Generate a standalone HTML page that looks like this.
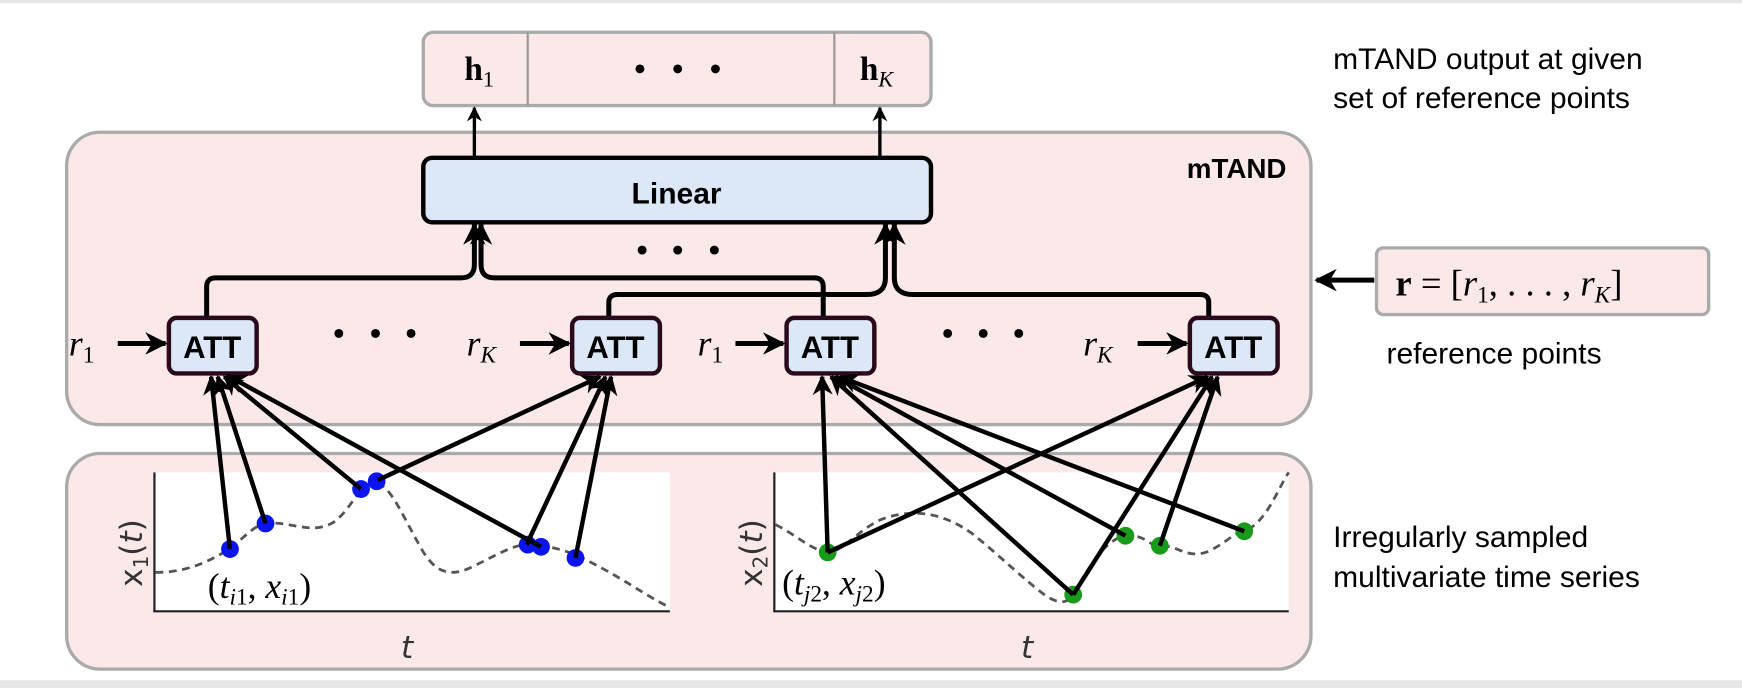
<!DOCTYPE html>
<html><head><meta charset="utf-8"><style>
html,body{margin:0;padding:0;background:#fff;}
svg{display:block;}
.s{font-family:"Liberation Sans",sans-serif;}
.m{font-family:"Liberation Serif",serif;font-style:italic;}
</style></head><body>
<svg width="1742" height="688" viewBox="0 0 1568 619" preserveAspectRatio="none" xmlns="http://www.w3.org/2000/svg">
<defs>
<marker id="a" viewBox="0 0 10 10" refX="9" refY="5" markerWidth="4.5" markerHeight="4.5" orient="auto-start-reverse" markerUnits="strokeWidth"><path d="M0,0 L10,5 L0,10 L3,5 z" fill="#000"/></marker>
</defs>
<rect x="0" y="0" width="1568" height="619" fill="#fff"/>
<rect x="0" y="612" width="1568" height="7" fill="#e6e6e6"/>
<rect x="0" y="0" width="1568" height="3" fill="#e6e6e6"/>
<rect x="381" y="29" width="457" height="66" rx="9" fill="#fbe9e9" stroke="#aaa" stroke-width="3"/>
<line x1="475" y1="29" x2="475" y2="95" stroke="#999" stroke-width="2"/>
<line x1="751" y1="29" x2="751" y2="95" stroke="#999" stroke-width="2"/>
<text x="418" y="72" font-family="Liberation Serif,serif" font-weight="bold" font-size="30">h<tspan font-size="20" font-weight="normal" dy="6">1</tspan></text>
<text x="774" y="72" font-family="Liberation Serif,serif" font-weight="bold" font-size="30">h<tspan font-size="20" font-weight="normal" font-style="italic" dy="6">K</tspan></text>
<g fill="#000"><circle cx="576" cy="62" r="4"/><circle cx="610" cy="62" r="4"/><circle cx="644" cy="62" r="4"/></g>
<text class="s" x="1200" y="62" font-size="27">mTAND output at given</text>
<text class="s" x="1200" y="97" font-size="27">set of reference points</text>
<rect x="60" y="119" width="1120" height="263" rx="30" fill="#fbe9e9" stroke="#aaa" stroke-width="3"/>
<text class="s" x="1158" y="160" font-size="25" font-weight="bold" text-anchor="end">mTAND</text>
<rect x="381" y="142" width="457" height="58" rx="8" fill="#dce8f8" stroke="#000" stroke-width="4"/>
<text class="s" x="609" y="183" font-size="27" font-weight="bold" text-anchor="middle">Linear</text>
<line x1="427" y1="142" x2="427" y2="97" stroke="#000" stroke-width="3" marker-end="url(#a)"/>
<line x1="792" y1="142" x2="792" y2="97" stroke="#000" stroke-width="3" marker-end="url(#a)"/>
<g fill="#000"><circle cx="578" cy="225" r="4"/><circle cx="610" cy="225" r="4"/><circle cx="643" cy="225" r="4"/></g>
<g fill="none" stroke="#000" stroke-width="4.5">
<path d="M186,285 V258 Q186,250 194,250 H415 Q427,250 427,238 V202" marker-end="url(#a)"/>
<path d="M741,285 V258 Q741,250 733,250 H445 Q433,250 433,238 V202" marker-end="url(#a)"/>
<path d="M548,285 V272 Q548,265 556,265 H780 Q797,265 797,250 V202" marker-end="url(#a)"/>
<path d="M1088,285 V272 Q1088,265 1080,265 H822 Q805,265 805,250 V202" marker-end="url(#a)"/>
</g>
<g stroke="#2a0a1a" stroke-width="4" fill="#dce8f8">
<rect x="152" y="286" width="79" height="50" rx="7"/>
<rect x="515" y="286" width="79" height="50" rx="7"/>
<rect x="708" y="286" width="79" height="50" rx="7"/>
<rect x="1071" y="286" width="79" height="50" rx="7"/>
</g>
<g class="s" font-size="28" font-weight="bold" text-anchor="middle">
<text x="191" y="322">ATT</text><text x="554" y="322">ATT</text><text x="747" y="322">ATT</text><text x="1110" y="322">ATT</text>
</g>
<g class="m" font-size="32">
<text x="62" y="320">r<tspan font-style="normal" font-size="21" dy="6">1</tspan></text>
<text x="420" y="320">r<tspan font-size="21" dy="6">K</tspan></text>
<text x="628" y="320">r<tspan font-style="normal" font-size="21" dy="6">1</tspan></text>
<text x="975" y="320">r<tspan font-size="21" dy="6">K</tspan></text>
</g>
<g stroke="#000" stroke-width="4.5">
<line x1="106" y1="309" x2="149" y2="309" marker-end="url(#a)"/>
<line x1="468" y1="309" x2="512" y2="309" marker-end="url(#a)"/>
<line x1="662" y1="309" x2="705" y2="309" marker-end="url(#a)"/>
<line x1="1024" y1="309" x2="1068" y2="309" marker-end="url(#a)"/>
</g>
<g fill="#000"><circle cx="305" cy="300" r="4"/><circle cx="338" cy="300" r="4"/><circle cx="370" cy="300" r="4"/>
<circle cx="853" cy="300" r="4"/><circle cx="885" cy="300" r="4"/><circle cx="917" cy="300" r="4"/></g>
<rect x="1239" y="223" width="299" height="60" rx="6" fill="#fbe9e9" stroke="#aaa" stroke-width="3"/>
<text x="1256" y="266" font-family="Liberation Serif,serif" font-size="33"><tspan font-weight="bold">r</tspan> = [<tspan font-style="italic">r</tspan><tspan font-size="21" dy="6">1</tspan><tspan dy="-6">, . . . , </tspan><tspan font-style="italic">r</tspan><tspan font-size="21" font-style="italic" dy="6">K</tspan><tspan dy="-6">]</tspan></text>
<line x1="1237" y1="252" x2="1185" y2="252" stroke="#000" stroke-width="4.5" marker-end="url(#a)"/>
<text class="s" x="1248" y="327" font-size="27">reference points</text>
<rect x="60" y="408" width="1120" height="194" rx="30" fill="#fbe9e9" stroke="#aaa" stroke-width="3"/>
<rect x="138" y="425" width="465" height="125" fill="#fff"/>
<rect x="696" y="425" width="464" height="125" fill="#fff"/>
<g stroke="#222" stroke-width="2">
<line x1="139" y1="425" x2="139" y2="550"/><line x1="138" y1="550" x2="603" y2="550"/>
<line x1="697" y1="425" x2="697" y2="550"/><line x1="696" y1="550" x2="1160" y2="550"/>
</g>
<g fill="none" stroke="#555" stroke-width="2.5" stroke-dasharray="7,5">
<path d="M140,515 C175,515 195,500 207,494 C220,483 230,472 239,471 C260,468 280,482 300,470 C315,460 322,438 335,435 C350,432 360,460 380,495 C392,515 405,520 425,510 C450,498 465,488 480,490 C500,492 515,497 530,505 C560,520 580,535 600,545"/>
<path d="M698,472 C715,480 730,495 745,497 C760,497 775,472 800,465 C825,458 850,462 875,480 C900,500 920,520 940,535 C950,542 960,545 966,535 C980,510 995,485 1013,482 C1030,480 1035,492 1044,491 C1060,490 1070,505 1090,495 C1105,487 1110,480 1120,478 C1140,470 1150,440 1160,425"/>
</g>
<g fill="#0a14f0">
<circle cx="207" cy="494" r="8"/><circle cx="239" cy="471" r="8"/><circle cx="325" cy="440" r="8"/><circle cx="339" cy="433" r="8"/>
<circle cx="475" cy="490" r="8"/><circle cx="487" cy="492" r="8"/><circle cx="518" cy="502" r="8"/>
</g>
<g fill="#1a9a1a">
<circle cx="745" cy="497" r="8"/><circle cx="966" cy="535" r="8"/><circle cx="1013" cy="482" r="8"/><circle cx="1044" cy="491" r="8"/><circle cx="1120" cy="478" r="8"/>
</g>
<g stroke="#000" stroke-width="4" marker-end="url(#a)">
<line x1="207" y1="494" x2="190" y2="339"/>
<line x1="239" y1="471" x2="196" y2="339"/>
<line x1="325" y1="440" x2="202" y2="339"/>
<line x1="487" y1="492" x2="205" y2="338"/>
<line x1="340" y1="432" x2="540" y2="339"/>
<line x1="474" y1="490" x2="545" y2="339"/>
<line x1="518" y1="502" x2="550" y2="339"/>
<line x1="745" y1="497" x2="740" y2="339"/>
<line x1="966" y1="535" x2="748" y2="339"/>
<line x1="1013" y1="482" x2="752" y2="339"/>
<line x1="1120" y1="478" x2="756" y2="339"/>
<line x1="745" y1="497" x2="1087" y2="339"/>
<line x1="966" y1="535" x2="1091" y2="339"/>
<line x1="1044" y1="491" x2="1096" y2="339"/>
</g>
<g font-family="DejaVu Sans,sans-serif" font-size="28" fill="#333">
<text transform="translate(128,528) rotate(-90)">x<tspan font-size="18" dy="5">1</tspan><tspan dy="-5">(</tspan><tspan font-style="italic">t</tspan>)</text>
<text transform="translate(686,528) rotate(-90)">x<tspan font-size="18" dy="5">2</tspan><tspan dy="-5">(</tspan><tspan font-style="italic">t</tspan>)</text>
<text x="361" y="592" font-style="italic">t</text>
<text x="919" y="592" font-style="italic">t</text>
</g>
<g font-family="Liberation Serif,serif" font-size="32">
<text x="187" y="538">(<tspan font-style="italic">t</tspan><tspan font-size="21" dy="6"><tspan font-style="italic">i</tspan>1</tspan><tspan dy="-6">, </tspan><tspan font-style="italic">x</tspan><tspan font-size="21" dy="6"><tspan font-style="italic">i</tspan>1</tspan><tspan dy="-6">)</tspan></text>
<text x="704" y="535">(<tspan font-style="italic">t</tspan><tspan font-size="21" dy="6"><tspan font-style="italic">j</tspan>2</tspan><tspan dy="-6">, </tspan><tspan font-style="italic">x</tspan><tspan font-size="21" dy="6"><tspan font-style="italic">j</tspan>2</tspan><tspan dy="-6">)</tspan></text>
</g>
<text class="s" x="1200" y="492" font-size="27">Irregularly sampled</text>
<text class="s" x="1200" y="528" font-size="27">multivariate time series</text>
</svg>
</body></html>
